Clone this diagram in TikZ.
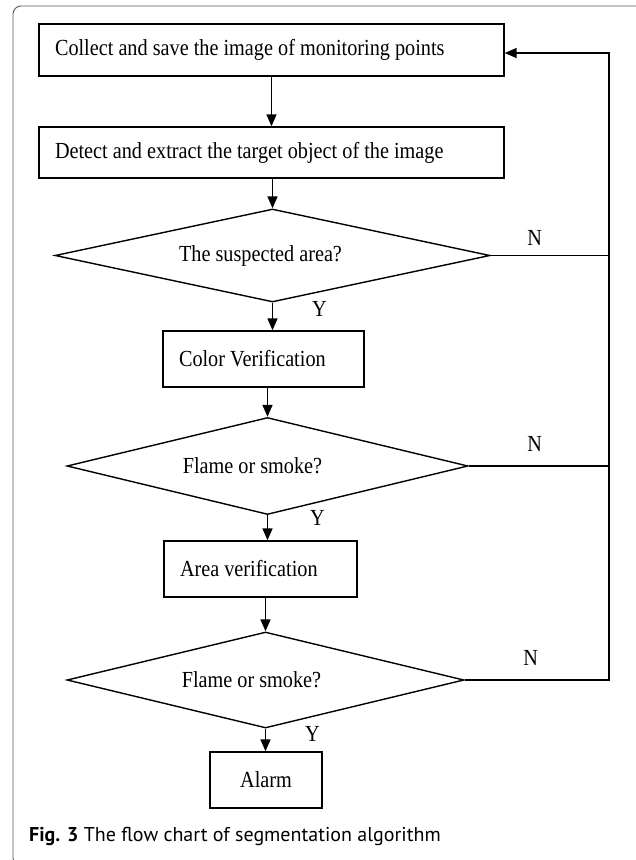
\documentclass[tikz,border=0pt]{standalone}
\usepackage{fontspec}
\setmainfont{Liberation Serif}
\newfontfamily\chartfont{Liberation Serif}[FakeStretch=0.88]
\newfontfamily\capfont{PT Sans}
\usetikzlibrary{arrows.meta, shapes.geometric}

\begin{document}
\begin{tikzpicture}[x=1pt, y=-1pt, >={Triangle[length=12pt, width=10pt]},
    box/.style={draw, line width=1.4pt, inner xsep=16pt, inner ysep=0pt, align=flush left, font=\chartfont\fontsize{23}{27}\selectfont},
    decision/.style={draw, diamond, line width=1.4pt, inner sep=0pt},
    dtext/.style={font=\chartfont\fontsize{23}{27}\selectfont},
    flow/.style={->, line width=1.6pt}]
    \useasboundingbox (0,0) rectangle (635,860);
    \draw[black!65, line width=0.9pt, rounded corners=8pt] (13,6) rectangle (645,866);

    % process boxes
    \node[box, text width=433pt, minimum height=52pt] (collect) at (271.5,50) {Collect and save the image of monitoring points};
    \node[box, text width=433pt, minimum height=51pt] (detect) at (271.5,152.5) {Detect and extract the target object of the image};
    \node[box, text width=169pt, minimum height=56pt] (color) at (263.5,359) {Color Verification};
    \node[box, text width=161pt, minimum height=56pt] (area) at (260.5,569) {Area verification};
    \node[box, text width=80pt, minimum height=56pt, align=center] (alarm) at (266,780) {Alarm};

    % decisions
    \node[decision, minimum width=435pt, minimum height=93pt,
        label={[dtext, name=suspectT, xshift=-12pt]center:The suspected area?}] (suspect) at (272.5,255.5) {};
    \node[decision, minimum width=401pt, minimum height=97pt,
        label={[dtext, name=flameT, xshift=-15pt]center:Flame or smoke?}] (flame1) at (267.5,466) {};
    \node[decision, minimum width=397pt, minimum height=96pt,
        label={[dtext, name=smokeT, xshift=-14pt]center:Flame or smoke?}] (flame2) at (265.5,680) {};

    % main flow
    \draw[flow] (collect.south) -- (detect.north);
    \draw[flow] (detect.south -| suspect.north) -- (suspect.north);
    \draw[flow] (suspect.south) -- (suspect.south |- color.north);
    \draw[flow] (color.south -| flame1.north) -- (flame1.north);
    \draw[flow] (flame1.south) -- (flame1.south |- area.north);
    \draw[flow] (area.south -| flame2.north) -- (flame2.north);
    \draw[flow] (flame2.south) -- (flame2.south |- alarm.north);

    % return line
    \coordinate (ret) at (609,53);
    \draw[flow] (flame2.east) -- (flame2.east -| ret) -- (ret) -- (ret -| collect.east);
    \draw[line width=1.6pt] (suspect.east) -- (suspect.east -| ret);
    \draw[line width=1.6pt] (flame1.east) -- (flame1.east -| ret);

    % labels
    \node[dtext] (n1) at ([shift={(44,-18)}]suspect.east) {N};
    \node[dtext] (n2) at ([shift={(66,-22)}]flame1.east) {N};
    \node[dtext] (n3) at ([shift={(66,-22)}]flame2.east) {N};
    \node[dtext] (y1) at ([shift={(47,6)}]suspect.south) {Y};
    \node[dtext] (y2) at ([shift={(50,3)}]flame1.south) {Y};
    \node[dtext] (y3) at ([shift={(47,5)}]flame2.south) {Y};

    \node[anchor=base west, inner sep=0pt, font=\capfont\fontsize{20}{24}\selectfont] (caption) at (29,841) {\textbf{Fig. 3} The flow chart of segmentation algorithm};
\end{tikzpicture}
\end{document}
